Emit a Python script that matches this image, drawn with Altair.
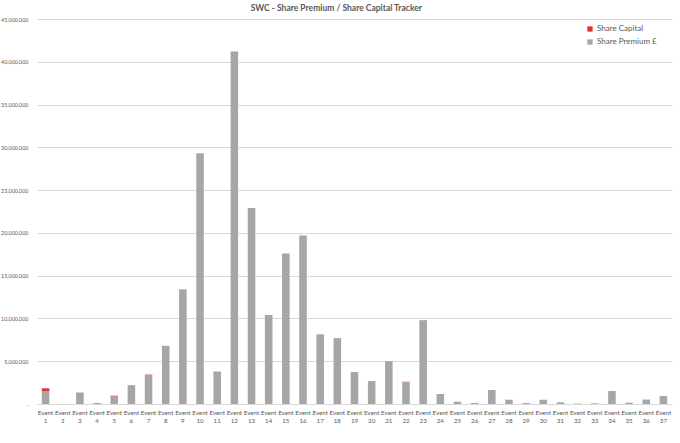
import altair as alt
import pandas as pd

# Event labels along the x axis
events = [f"Event {i}" for i in range(1, 38)]

# Share premium raised per event (GBP)
share_premium = [
    1480000, 0, 1240000, 120000, 900000, 2200000, 3400000, 6800000, 13400000, 29300000,
    3800000, 41200000, 22900000, 10400000, 17600000, 19700000, 8150000, 7700000, 3750000, 2600000,
    5000000, 2550000, 9800000, 1170000, 270000, 120000, 1640000, 500000, 100000, 500000,
    200000, 50000, 80000, 1520000, 150000, 470000, 930000,
]

# Share capital issued per event (GBP)
share_capital = [
    350000, 0, 80000, 0, 70000, 0, 40000, 0, 0, 0,
    0, 0, 0, 0, 0, 0, 0, 0, 0, 50000,
    0, 50000, 0, 0, 0, 0, 0, 0, 20000, 0,
    0, 0, 0, 0, 0, 30000, 0,
]

series_names = ["Share Capital", "Share Premium £"]
series_colors = ["#e0322b", "#a6a6a6"]

rows = []
for ev, prem, cap in zip(events, share_premium, share_capital):
    rows.append({"event": ev, "series": "Share Premium £", "value": prem, "stack": 0})
    rows.append({"event": ev, "series": "Share Capital", "value": cap, "stack": 1})
df = pd.DataFrame(rows)

font = "Lato"
text_color = "#595959"

chart = (
    alt.Chart(df)
    .mark_bar()
    .encode(
        x=alt.X(
            "event:N",
            sort=events,
            title=None,
            scale=alt.Scale(paddingInner=0.56, paddingOuter=0.28),
            axis=alt.Axis(
                labelAngle=0,
                labelExpr="split(datum.label, ' ')",
                labelFontSize=6.2,
                labelColor=text_color,
                labelFont=font,
                labelLineHeight=8,
                labelPadding=5,
                labelOverlap=False,
                ticks=False,
                domain=True,
                domainColor="#d9d9d9",
                grid=False,
            ),
        ),
        y=alt.Y(
            "sum(value):Q",
            title=None,
            stack="zero",
            scale=alt.Scale(domain=[0, 45000000], nice=False),
            axis=alt.Axis(
                values=list(range(0, 45000001, 5000000)),
                labelExpr="datum.value == 0 ? '-' : format(datum.value, ',')",
                labelFontSize=5.4,
                labelColor=text_color,
                labelFont=font,
                labelPadding=9,
                ticks=False,
                domain=False,
                gridColor="#d9d9d9",
                gridWidth=1,
            ),
        ),
        color=alt.Color(
            "series:N",
            scale=alt.Scale(domain=series_names, range=series_colors),
            legend=alt.Legend(
                title=None,
                orient="none",
                legendX=549,
                legendY=6,
                symbolType="square",
                symbolSize=28,
                symbolStrokeWidth=0,
                labelFontSize=8,
                labelColor=text_color,
                labelFont=font,
                rowPadding=5,
                labelOffset=3,
            ),
        ),
        order=alt.Order("stack:Q", sort="ascending"),
    )
    .properties(
        width=635,
        height=385,
        title=alt.TitleParams(
            "SWC - Share Premium / Share Capital Tracker",
            fontSize=8.5,
            font=font,
            fontWeight="bold",
            color=text_color,
            anchor="middle",
            frame="bounds",
            offset=5,
        ),
        autosize=alt.AutoSizeParams(type="none"),
        padding={"left": 37, "top": 19, "right": 8, "bottom": 39},
    )
    .configure_view(stroke=None)
)

chart.save("out.html", embed_options={"renderer": "svg", "actions": False})
